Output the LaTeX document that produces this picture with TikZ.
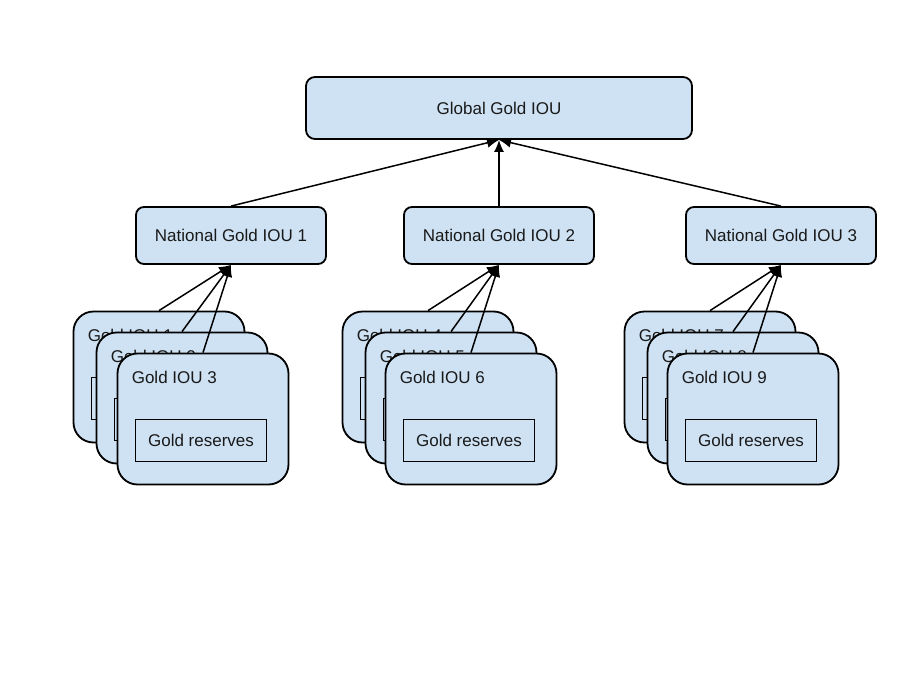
\documentclass[tikz,border=0pt]{standalone}
\usepackage{fontspec}
\setmainfont{Liberation Sans}
\usetikzlibrary{arrows.meta}
\definecolor{boxblue}{RGB}{207,226,243}
\definecolor{inkgray}{RGB}{25,25,25}
\begin{document}
\begin{tikzpicture}[x=1pt,y=-1pt,
    every node/.style={font=\fontsize{17}{20}\selectfont, text=inkgray},
    topbox/.style={draw, line width=1.8pt, fill=boxblue, rounded corners=9pt,
      minimum width=386pt, minimum height=62pt},
    natbox/.style={draw, line width=1.8pt, fill=boxblue, rounded corners=8pt,
      minimum width=190pt, minimum height=57pt},
    card/.style={draw, line width=1.8pt, fill=boxblue, rounded corners=20pt,
      minimum width=171pt, minimum height=131pt},
    cardtitle/.style={anchor=west, inner sep=0pt},
    reserve/.style={draw, line width=1.5pt, fill=boxblue,
      minimum width=131pt, minimum height=42pt},
    link/.style={line width=1.5pt, -{Latex[length=12pt,width=10pt]}}]
  \useasboundingbox (0,0) rectangle (900,680);
  % top and national level
  \node[topbox] (g) at (499,108) {Global Gold IOU};
  \node[natbox] (n1) at (231,235.5) {National Gold IOU 1};
  \node[natbox] (n2) at (499,235.5) {National Gold IOU 2};
  \node[natbox] (n3) at (781,235.5) {National Gold IOU 3};
  % group 1
  \node[card] (c1) at (159,377) {};
  \node[cardtitle] (t1) at ([shift={(15,25)}]c1.north west) {Gold IOU 1};
  \node[reserve] (r1) at ([shift={(-2,21.5)}]c1.center) {Gold reserves};
  \node[card] (c2) at (182,398) {};
  \node[cardtitle] (t2) at ([shift={(15,25)}]c2.north west) {Gold IOU 2};
  \node[reserve] (r2) at ([shift={(-2,21.5)}]c2.center) {Gold reserves};
  \node[card] (c3) at (203,419) {};
  \node[cardtitle] (t3) at ([shift={(15,25)}]c3.north west) {Gold IOU 3};
  \node[reserve] (r3) at ([shift={(-2,21.5)}]c3.center) {Gold reserves};
  % group 2
  \node[card] (c4) at (428,377) {};
  \node[cardtitle] (t4) at ([shift={(15,25)}]c4.north west) {Gold IOU 4};
  \node[reserve] (r4) at ([shift={(-2,21.5)}]c4.center) {Gold reserves};
  \node[card] (c5) at (451,398) {};
  \node[cardtitle] (t5) at ([shift={(15,25)}]c5.north west) {Gold IOU 5};
  \node[reserve] (r5) at ([shift={(-2,21.5)}]c5.center) {Gold reserves};
  \node[card] (c6) at (471,419) {};
  \node[cardtitle] (t6) at ([shift={(15,25)}]c6.north west) {Gold IOU 6};
  \node[reserve] (r6) at ([shift={(-2,21.5)}]c6.center) {Gold reserves};
  % group 3
  \node[card] (c7) at (710,377) {};
  \node[cardtitle] (t7) at ([shift={(15,25)}]c7.north west) {Gold IOU 7};
  \node[reserve] (r7) at ([shift={(-2,21.5)}]c7.center) {Gold reserves};
  \node[card] (c8) at (733,398) {};
  \node[cardtitle] (t8) at ([shift={(15,25)}]c8.north west) {Gold IOU 8};
  \node[reserve] (r8) at ([shift={(-2,21.5)}]c8.center) {Gold reserves};
  \node[card] (c9) at (753,419) {};
  \node[cardtitle] (t9) at ([shift={(15,25)}]c9.north west) {Gold IOU 9};
  \node[reserve] (r9) at ([shift={(-2,21.5)}]c9.center) {Gold reserves};
  \begin{scope}[link]
    \draw (n1.north) to (g.south);
    \draw (n2.north) to (g.south);
    \draw (n3.north) to (g.south);
    \draw (c1.north) to (n1.south);
    \draw (c2.north) to (n1.south);
    \draw (c3.north) to (n1.south);
    \draw (c4.north) to (n2.south);
    \draw (c5.north) to (n2.south);
    \draw (c6.north) to (n2.south);
    \draw (c7.north) to (n3.south);
    \draw (c8.north) to (n3.south);
    \draw (c9.north) to (n3.south);
  \end{scope}
\end{tikzpicture}
\end{document}
